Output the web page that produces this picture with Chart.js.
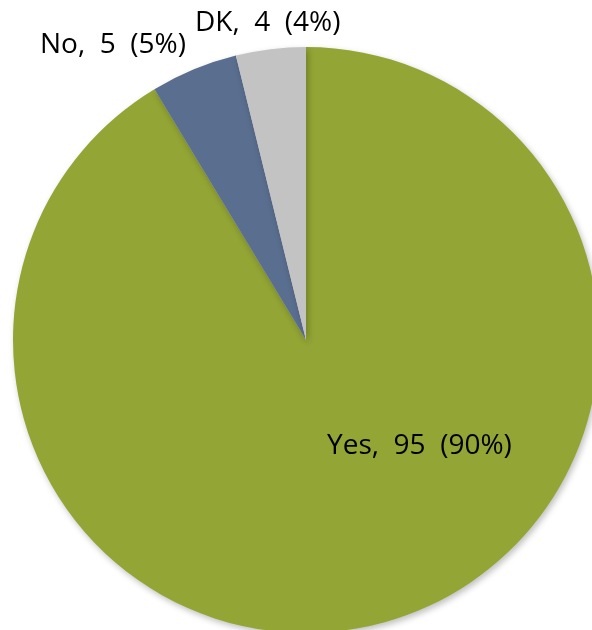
<!DOCTYPE html>
<html>
<head>
<meta charset="utf-8">
<script src="https://cdn.jsdelivr.net/npm/chart.js@4/dist/chart.umd.min.js"></script>
<style>
  html, body { margin: 0; padding: 0; background: #fff; }
  #wrap { width: 592px; height: 630px; overflow: hidden; position: relative; }
  #wrap canvas { position: absolute; left: 0; top: 0; }
</style>
</head>
<body>
<div id="wrap"><canvas id="pie" width="612" height="680"></canvas></div>
<script>
// chart values
const categories = ['Yes', 'No', 'DK'];
const counts = [95, 5, 4];
const percents = ['90%', '5%', '4%'];
const sliceColors = ['#93a534', '#5a6e8f', '#c3c3c3'];

// label anchor (left edge, middle) as a fraction of the radius from the centre
const labelAnchors = [[0.072, 0.362], [-0.908, -1.006], [-0.379, -1.082]];

const labelPlugin = {
  id: 'sliceLabels',
  afterDatasetsDraw(chart) {
    const ctx = chart.ctx;
    const meta = chart.getDatasetMeta(0);
    ctx.save();
    ctx.font = '28px "Open Sans", sans-serif';
    ctx.fillStyle = '#000';
    ctx.textBaseline = 'middle';
    ctx.textAlign = 'left';
    meta.data.forEach(function(arc, i) {
      const r = arc.outerRadius;
      const txt = categories[i] + ',  ' + counts[i] + '  (' + percents[i] + ')';
      ctx.fillText(txt, arc.x + labelAnchors[i][0] * r, arc.y + labelAnchors[i][1] * r);
    });
    ctx.restore();
  }
};

const shadowPlugin = {
  id: 'pieShadow',
  beforeDatasetDraw(chart) {
    const ctx = chart.ctx;
    ctx.save();
    ctx.shadowColor = 'rgba(0,0,0,0.25)';
    ctx.shadowBlur = 6;
    ctx.shadowOffsetX = 2;
    ctx.shadowOffsetY = 3;
  },
  afterDatasetDraw(chart) {
    chart.ctx.restore();
  }
};

new Chart(document.getElementById('pie'), {
  type: 'pie',
  data: {
    labels: categories,
    datasets: [{
      data: counts,
      backgroundColor: sliceColors,
      borderWidth: 0
    }]
  },
  options: {
    animation: false,
    responsive: false,
    layout: { padding: 13 },
    plugins: {
      legend: { display: false },
      tooltip: { enabled: false }
    }
  },
  plugins: [shadowPlugin, labelPlugin]
});
</script>
</body>
</html>
